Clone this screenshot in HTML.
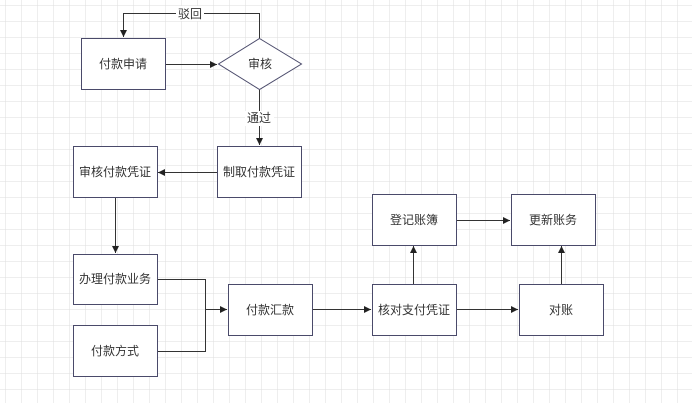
<!DOCTYPE html>
<html><head><meta charset="utf-8"><style>
html,body{margin:0;padding:0;background:#fff}
svg{display:block}
text{font-family:"Liberation Sans","Noto Sans CJK SC",sans-serif;font-size:12px;fill:#333;text-anchor:middle;dominant-baseline:central}
</style></head><body>
<svg width="692" height="403" viewBox="0 0 692 403">
<defs>
<pattern id="g" x="6" y="6" width="16" height="16" patternUnits="userSpaceOnUse">
<path d="M16 0V16M0 16H16" fill="none" stroke="#dedede" stroke-width="1"/>
</pattern>
<marker id="a" markerWidth="8" markerHeight="8" refX="7" refY="4" orient="auto" markerUnits="userSpaceOnUse">
<path d="M0,0.5 L7,4 L0,7.5z" fill="#222"/>
</marker>
</defs>
<rect width="692" height="403" fill="url(#g)"/>
<g fill="#fff" stroke="#4a4a6a" stroke-width="1">
<rect x="81.5" y="38.5" width="84" height="51"/>
<polygon points="259.5,38.5 301.5,64 259.5,89.5 218.5,64"/>
<rect x="73.5" y="146.5" width="84" height="51"/>
<rect x="217.5" y="146.5" width="84" height="51"/>
<rect x="73.5" y="254.5" width="84" height="50"/>
<rect x="73.5" y="325.5" width="84" height="51"/>
<rect x="228.5" y="284.5" width="84" height="51"/>
<rect x="372.5" y="284.5" width="84" height="51"/>
<rect x="372.5" y="194.5" width="84" height="51"/>
<rect x="511.5" y="194.5" width="84" height="51"/>
<rect x="519.5" y="284.5" width="84" height="51"/>
</g>
<g fill="none" stroke="#333" stroke-width="1">
<path d="M259.5 38V13.5H123.5V37" marker-end="url(#a)"/>
<path d="M166 64.5H217" marker-end="url(#a)"/>
<path d="M259.5 90V145" marker-end="url(#a)"/>
<path d="M217 172.5H158" marker-end="url(#a)"/>
<path d="M115.5 198V253" marker-end="url(#a)"/>
<path d="M158 279.5H205.5V351.5H158"/>
<path d="M205.5 309.5H227" marker-end="url(#a)"/>
<path d="M313 309.5H371" marker-end="url(#a)"/>
<path d="M457 309.5H518" marker-end="url(#a)"/>
<path d="M413.5 284V246" marker-end="url(#a)"/>
<path d="M457 220.5H510" marker-end="url(#a)"/>
<path d="M561.5 284V246" marker-end="url(#a)"/>
</g>
<rect x="176" y="6" width="28" height="15" fill="#fff"/>
<text x="190" y="14">驳回</text>
<rect x="245" y="111" width="29" height="15" fill="#fff"/>
<text x="259" y="118">通过</text>
<text x="123" y="64">付款申请</text>
<text x="260" y="64">审核</text>
<text x="115" y="172">审核付款凭证</text>
<text x="259" y="172">制取付款凭证</text>
<text x="115" y="279">办理付款业务</text>
<text x="115" y="351">付款方式</text>
<text x="270" y="310">付款汇款</text>
<text x="414" y="310">核对支付凭证</text>
<text x="414" y="220">登记账簿</text>
<text x="553" y="220">更新账务</text>
<text x="561" y="310">对账</text>
</svg>
</body></html>
